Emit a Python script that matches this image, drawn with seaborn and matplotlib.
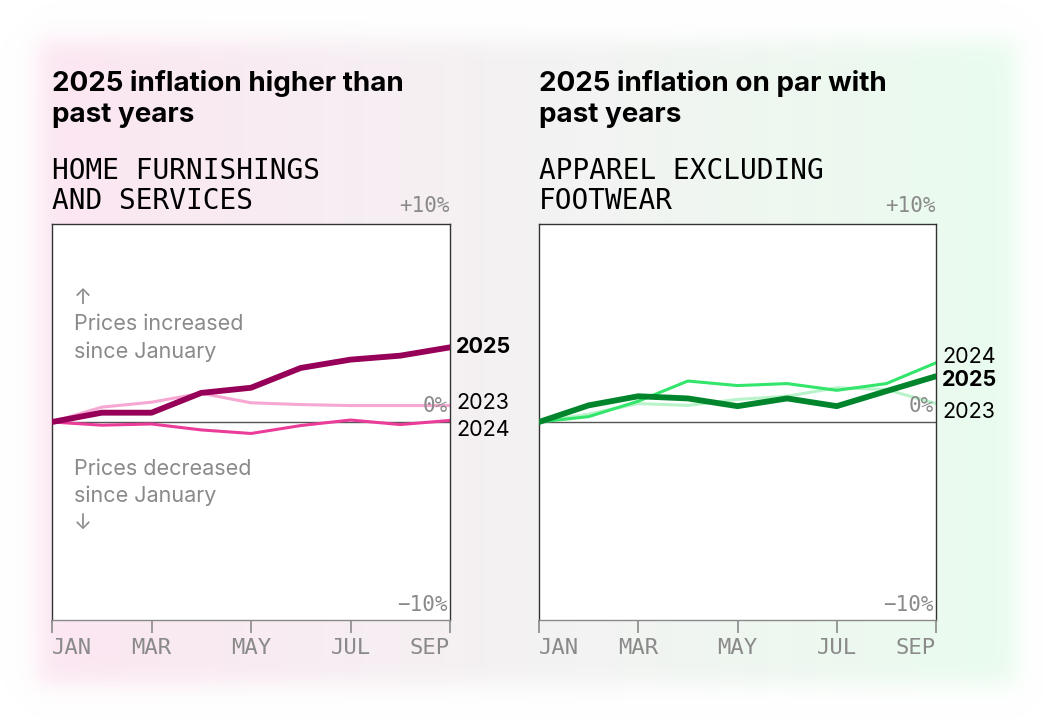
import numpy as np
import pandas as pd
import matplotlib.pyplot as plt
import seaborn as sns

# Valores (% de variação desde janeiro)
meses = ['JAN', 'FEB', 'MAR', 'APR', 'MAY', 'JUN', 'JUL', 'AUG', 'SEP']
meses_rotulo = ['JAN', 'MAR', 'MAY', 'JUL', 'SEP']

casa_2023 = [0.0, 0.75, 1.0, 1.45, 0.97, 0.88, 0.83, 0.83, 0.83]
casa_2024 = [0.0, -0.16, -0.1, -0.4, -0.58, -0.18, 0.1, -0.13, 0.08]
casa_2025 = [0.0, 0.47, 0.47, 1.47, 1.73, 2.73, 3.15, 3.35, 3.77]

roupa_2023 = [0.0, 0.4, 0.93, 0.84, 1.14, 1.3, 1.73, 1.64, 0.93]
roupa_2024 = [0.0, 0.27, 1.05, 2.07, 1.84, 1.94, 1.6, 1.94, 2.99]
roupa_2025 = [0.0, 0.84, 1.3, 1.19, 0.8, 1.19, 0.8, 1.56, 2.31]

titulos = ['2025 inflation higher than\npast years', '2025 inflation on par with\npast years']
subtitulos = ['HOME FURNISHINGS\nAND SERVICES', 'APPAREL EXCLUDING\nFOOTWEAR']

cores_casa = {'2023': '#f7a8d2', '2024': '#ec3c9a', '2025': '#960058'}
cores_roupa = {'2023': '#b8f3c9', '2024': '#33e56a', '2025': '#00852c'}
larguras = {'2023': 2.2, '2024': 2.2, '2025': 4.2}

# posição vertical dos rótulos de ano (ajustada para não sobrepor)
rotulos_casa = {'2025': 3.8, '2023': 0.95, '2024': -0.4}
rotulos_roupa = {'2024': 3.3, '2025': 2.1, '2023': 0.5}

mono = 'DejaVu Sans Mono'
cinza_txt = '#8a8a8a'
sns.set_theme(style='white')
plt.rcParams['font.family'] = ['Inter', 'DejaVu Sans']

fig = plt.figure(figsize=(10.44, 7.2), dpi=100)

# Fundo: cartão com gradiente rosa -> cinza -> verde e bordas suaves
H, W = 720, 1044
xs = np.arange(W)
ys = np.arange(H)
rosa = np.array([252, 230, 241]) / 255
cinza = np.array([244, 242, 243]) / 255
verde = np.array([233, 252, 238]) / 255
t = np.clip((xs - 40) / (1010 - 40), 0, 1)
cor = np.where(t[:, None] < 0.5,
               rosa + (cinza - rosa) * (t[:, None] / 0.5),
               cinza + (verde - cinza) * ((t[:, None] - 0.5) / 0.5))
img = np.ones((H, W, 4))
img[:, :, :3] = cor[None, :, :]


def borda(v, a, b, s):
    return 1 / (1 + np.exp(-(v - a) / s)) * 1 / (1 + np.exp((v - b) / s))


alfa = borda(ys, 40, 684, 7)[:, None] * borda(xs, 38, 1016, 7)[None, :]
img[:, :, 3] = alfa
fundo = fig.add_axes([0, 0, 1, 1])
fundo.imshow(img, aspect='auto', extent=[0, W, H, 0])
fundo.set_axis_off()

posicoes = [[52 / W, 1 - 620 / H, 398 / W, 396 / H],
            [539 / W, 1 - 620 / H, 397 / W, 396 / H]]
dados = [(casa_2023, casa_2024, casa_2025, cores_casa, rotulos_casa),
         (roupa_2023, roupa_2024, roupa_2025, cores_roupa, rotulos_roupa)]

for i, (s23, s24, s25, cores, rotulos) in enumerate(dados):
    ax = fig.add_axes(posicoes[i])
    ax.set_facecolor('white')
    df = pd.DataFrame({'mes': list(range(len(meses))) * 3,
                       'valor': s23 + s24 + s25,
                       'ano': ['2023'] * 9 + ['2024'] * 9 + ['2025'] * 9})
    ax.axhline(0, color='#555555', lw=1, zorder=1)
    for ano in ['2023', '2024', '2025']:
        sub = df[df['ano'] == ano]
        sns.lineplot(data=sub, x='mes', y='valor', ax=ax, color=cores[ano],
                     lw=larguras[ano], zorder=3 if ano == '2025' else 2)
    ax.set_xlim(0, 8)
    ax.set_ylim(-10, 10)
    ax.set_xlabel('')
    ax.set_ylabel('')
    ax.set_yticks([])
    ax.set_xticks([0, 2, 4, 6, 8])
    ax.set_xticklabels(meses_rotulo, fontfamily=mono, fontsize=16, color=cinza_txt)
    alinh = ['left', 'center', 'center', 'center', 'right']
    for lab, a in zip(ax.get_xticklabels(), alinh):
        lab.set_horizontalalignment(a)
    ax.xaxis.set_tick_params(which='major', bottom=True, direction='out', length=9,
                             width=1.2, color=cinza_txt, pad=4)
    for tk in ax.xaxis.get_major_ticks():
        tk.tick1line.set_visible(True)
        tk.tick1line.set_markersize(9)
    for lado in ['top', 'right', 'left', 'bottom']:
        ax.spines[lado].set_visible(True)
        ax.spines[lado].set_color('#333333')
        ax.spines[lado].set_linewidth(1)
    ax.spines['bottom'].set_color(cinza_txt)

    ax.text(1.0, 1.02, '+10%', transform=ax.transAxes, ha='right', va='bottom',
            fontfamily=mono, fontsize=15, color=cinza_txt)
    ax.text(7.95, 0.3, '0%', ha='right', va='bottom',
            fontfamily=mono, fontsize=15, color=cinza_txt)
    ax.text(7.95, -9.75, '−10%', ha='right', va='bottom',
            fontfamily=mono, fontsize=15, color=cinza_txt)

    for ano, yv in rotulos.items():
        ax.text(8.12, yv, ano, ha='left', va='center', fontsize=15.5, color='black',
                fontweight='bold' if ano == '2025' else 'normal', clip_on=False)

    ax.text(0, 1.258, titulos[i], transform=ax.transAxes, ha='left', va='baseline',
            fontsize=20, fontweight='bold', color='black', linespacing=1.25)
    ax.text(0, 1.038, subtitulos[i], transform=ax.transAxes, ha='left', va='baseline',
            fontfamily=mono, fontsize=20, color='black', linespacing=1.08)

    if i == 0:
        ax.text(0.055, 0.746, '↑\nPrices increased\nsince January', transform=ax.transAxes,
                ha='left', va='center', fontsize=15.5, color=cinza_txt, linespacing=1.42)
        ax.text(0.055, 0.313, 'Prices decreased\nsince January\n↓', transform=ax.transAxes,
                ha='left', va='center', fontsize=15.5, color=cinza_txt, linespacing=1.42)

fig.savefig('out.png', dpi=100)
